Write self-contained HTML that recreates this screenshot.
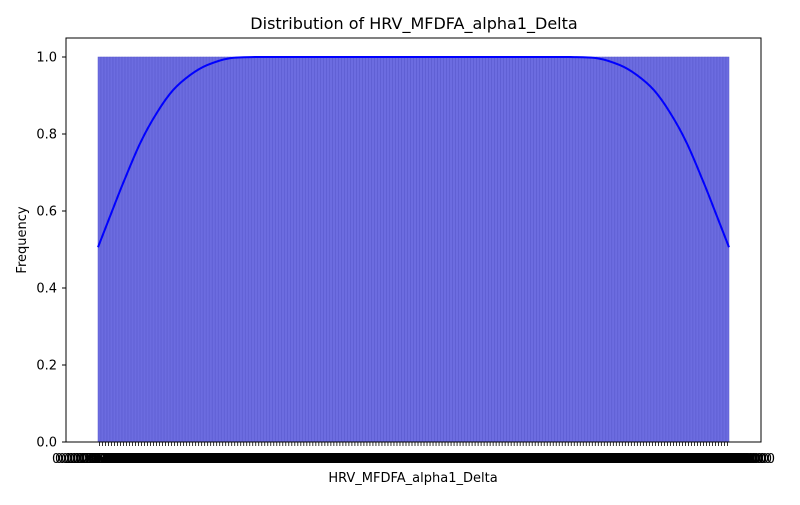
<!DOCTYPE html>
<html><head><meta charset="utf-8"><style>
body{margin:0;background:#fff;}
svg text{font-family:"DejaVu Sans","Liberation Sans",sans-serif;}
</style></head><body>
<svg id="chart" width="800" height="500" xmlns="http://www.w3.org/2000/svg">
<rect width="800" height="500" fill="#fff"/>
<text x="414" y="29" font-size="16" text-anchor="middle">Distribution of HRV_MFDFA_alpha1_Delta</text>
<g id="bars"></g>
<g id="xticks"></g>
<path id="kde" fill="none" stroke="#0000ff" stroke-width="2" stroke-linejoin="round"/>
<g id="yticks"></g>
<rect x="66" y="38" width="695" height="404" fill="none" stroke="#000" stroke-width="1"/>
<text x="413" y="482" font-size="13" text-anchor="middle">HRV_MFDFA_alpha1_Delta</text>
<text transform="translate(26,240) rotate(-90)" font-size="13" text-anchor="middle">Frequency</text>
</svg>
<script>
const N = 210;
const categories = [];
for (let i = 0; i < N; i++) categories.push((0.1 + i * 0.00731).toFixed(10));
const counts = new Array(N).fill(1);
const yTicks = [0.0, 0.2, 0.4, 0.6, 0.8, 1.0];
const kdeFrac = [0, 0.02, 0.04, 0.067, 0.094, 0.119, 0.146, 0.173, 0.209, 0.252, 0.3, 0.5, 0.7, 0.748, 0.791, 0.827, 0.854, 0.881, 0.906, 0.933, 0.96, 0.98, 1];
const kdeVals = [0.506, 0.59, 0.673, 0.777, 0.857, 0.914, 0.953, 0.979, 0.997, 1.0, 1.0, 1.0, 1.0, 1.0, 0.997, 0.979, 0.953, 0.914, 0.857, 0.777, 0.673, 0.59, 0.506];

const svg = document.getElementById('chart');
const NS = 'http://www.w3.org/2000/svg';
const x0 = 98, x1 = 729;
const bw = (x1 - x0) / N;
const xPos = i => x0 + i * bw;
const yPos = v => 442 - v * 385;

const bars = document.getElementById('bars');
const xt = document.getElementById('xticks');
categories.forEach((c, i) => {
  const r = document.createElementNS(NS, 'rect');
  
  
  r.setAttribute('x', xPos(i));
  r.setAttribute('y', yPos(counts[i]));
  r.setAttribute('width', bw);
  r.setAttribute('height', 442 - yPos(counts[i]));
  r.setAttribute('fill', '#6c6ce0');
  r.setAttribute('stroke', '#5858cc');
  r.setAttribute('stroke-width', '0.5');
  bars.appendChild(r);
  const cx = xPos(i) + bw / 2;
  const t = document.createElementNS(NS, 'line');
  
  
  t.setAttribute('x1', cx); t.setAttribute('x2', cx);
  t.setAttribute('y1', 442); t.setAttribute('y2', 446);
  t.setAttribute('stroke', '#000'); t.setAttribute('stroke-width', '0.8');
  xt.appendChild(t);
  const l = document.createElementNS(NS, 'text');
  
  
  l.setAttribute('x', cx); l.setAttribute('y', 463);
  l.setAttribute('font-size', '13'); l.setAttribute('text-anchor', 'middle');
  l.textContent = c;
  xt.appendChild(l);
});

const yt = document.getElementById('yticks');
yTicks.forEach(v => {
  const t = document.createElementNS(NS, 'line');
  
  
  t.setAttribute('x1', 62); t.setAttribute('x2', 66);
  t.setAttribute('y1', yPos(v)); t.setAttribute('y2', yPos(v));
  t.setAttribute('stroke', '#000');
  yt.appendChild(t);
  const l = document.createElementNS(NS, 'text');
  
  
  l.setAttribute('x', 57); l.setAttribute('y', yPos(v) + 4.5);
  l.setAttribute('font-size', '13'); l.setAttribute('text-anchor', 'end');
  l.textContent = v.toFixed(1);
  yt.appendChild(l);
});

const pts = kdeFrac.map((f, i) => [x0 + f * (x1 - x0), yPos(kdeVals[i])]);
let d = 'M' + pts[0][0].toFixed(1) + ',' + pts[0][1].toFixed(1);
for (let i = 0; i < pts.length - 1; i++) {
  const p0 = pts[Math.max(0, i - 1)], p1 = pts[i], p2 = pts[i + 1], p3 = pts[Math.min(pts.length - 1, i + 2)];
  const c1 = [p1[0] + (p2[0] - p0[0]) / 6, p1[1] + (p2[1] - p0[1]) / 6];
  const c2 = [p2[0] - (p3[0] - p1[0]) / 6, p2[1] - (p3[1] - p1[1]) / 6];
  d += 'C' + c1[0].toFixed(1) + ',' + Math.max(57, c1[1]).toFixed(1) + ' ' + c2[0].toFixed(1) + ',' + Math.max(57, c2[1]).toFixed(1) + ' ' + p2[0].toFixed(1) + ',' + p2[1].toFixed(1);
}
document.getElementById('kde').setAttribute('d', d);
</script>
</body></html>
